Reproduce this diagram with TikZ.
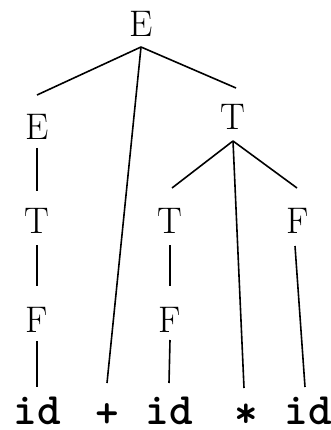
\documentclass[tikz,border=0pt]{standalone}
\usepackage{fontspec}
\newfontfamily\idfont{lmmonolt10-bold.otf}

\begin{document}
\begin{tikzpicture}[x=1pt,y=-1pt,
  sym/.style={anchor=base,inner sep=0pt,font=\fontsize{37}{44}\selectfont},
  tok/.style={anchor=base,inner sep=0pt,font=\fontsize{45}{50}\idfont},
  branch/.style={line width=1.6pt}]
\useasboundingbox (0,0) rectangle (330,430);
\node[sym](E0) at (141,37){E};
\node[sym](E1) at (37,140){E};
\node[sym](T1) at (233,130){T};
\node[sym](T2) at (37,233){T};
\node[sym](T3) at (170,233){T};
\node[sym](F3) at (298,233){F};
\node[sym](F1) at (37,332){F};
\node[sym](F2) at (170,332){F};
\node[tok](id1) at (37,424){id};
\node[tok,anchor=center](plus) at (107,416){+};
\node[tok](id2) at (169,424){id};
\node[tok,anchor=center](star) at (246,416){*};
\node[tok](id3) at (308,424){id};
% level 1
\draw[branch] ([yshift=-10pt]E0.base) -- ([yshift=45pt]E1.base);
\draw[branch] ([yshift=-10pt]E0.base) -- ([yshift=33pt]plus.center);
\draw[branch] ([yshift=-10pt]E0.base) -- ([shift={(3pt,42pt)}]T1.base);
% level 2
\draw[branch] ([yshift=-8pt]E1.base) -- ([yshift=42pt]T2.base);
\draw[branch] ([yshift=-11pt]T1.base) -- ([shift={(2pt,45pt)}]T3.base);
\draw[branch] ([yshift=-11pt]T1.base) -- ([shift={(-2pt,28pt)}]star.center);
\draw[branch] ([yshift=-11pt]T1.base) -- ([shift={(-1pt,45pt)}]F3.base);
% level 3
\draw[branch] ([yshift=-12pt]T2.base) -- ([yshift=46pt]F1.base);
\draw[branch] ([yshift=-12pt]T3.base) -- ([yshift=46pt]F2.base);
\draw[branch] ([shift={(-3pt,-13pt)}]F3.base) -- ([shift={(-3pt,37pt)}]id3.base);
% level 4
\draw[branch] ([yshift=-9pt]F1.base) -- ([yshift=37pt]id1.base);
\draw[branch] ([yshift=-8pt]F2.base) -- ([yshift=41pt]id2.base);
\end{tikzpicture}
\end{document}
